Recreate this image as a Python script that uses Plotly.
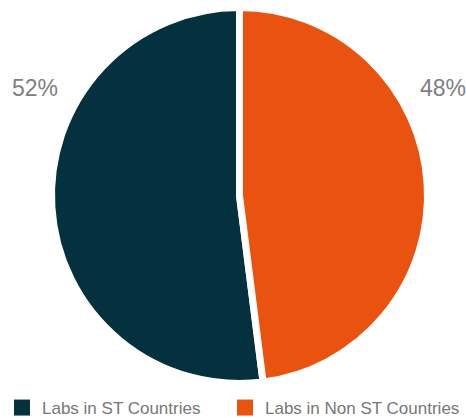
import plotly.graph_objects as go

labels = ["Labs in ST Countries", "Labs in Non ST Countries"]
values = [52, 48]
colors = ["#05313F", "#E9520F"]

W, H = 466, 418
total = sum(values)

fig = go.Figure()
# pie: first slice (navy) runs clockwise from 172.8 deg to 12 o'clock
fig.add_trace(go.Pie(
    labels=labels, values=values, sort=False, direction="clockwise",
    rotation=360 * (1 - values[0] / total), textinfo="none", hoverinfo="label+percent",
    showlegend=False,
    marker=dict(colors=colors, line=dict(color="white", width=7)),
    domain=dict(x=[51.5 / W, 427.5 / W], y=[(H - 383.5) / H, (H - 7.5) / H]),
))

# legend entries with square swatches, one legend per entry
legend_ids = ["legend", "legend2"]
for name, col, lg in zip(labels, colors, legend_ids):
    fig.add_trace(go.Scatter(x=[None], y=[None], mode="markers", name=name,
                             legend=lg,
                             marker=dict(symbol="square", size=16, color=col),
                             hoverinfo="skip"))

label_pos = [(35, 88), (443, 88)]
for v, (px, py) in zip(values, label_pos):
    fig.add_annotation(x=px / W, y=1 - py / H, xref="paper", yref="paper",
                       text=f"{round(100 * v / total)}%", showarrow=False,
                       font=dict(size=23, color="#808080", family="Liberation Sans, Arial"),
                       xanchor="center", yanchor="middle")

legend_font = dict(size=17, color="#777777", family="Liberation Sans, Arial")
fig.update_layout(
    width=W, height=H, margin=dict(l=0, r=0, t=0, b=0, autoexpand=False),
    paper_bgcolor="white", plot_bgcolor="white",
    xaxis=dict(visible=False), yaxis=dict(visible=False),
    showlegend=True,
    legend=dict(orientation="h", x=2 / W, y=-8 / H, xanchor="left", yanchor="bottom",
                font=legend_font, bgcolor="rgba(0,0,0,0)"),
    legend2=dict(orientation="h", x=225 / W, y=-8 / H, xanchor="left", yanchor="bottom",
                 font=legend_font, bgcolor="rgba(0,0,0,0)"),
)
fig.write_html("out.html", config={"displayModeBar": False},
               post_script="document.body.style.margin='0px';")
